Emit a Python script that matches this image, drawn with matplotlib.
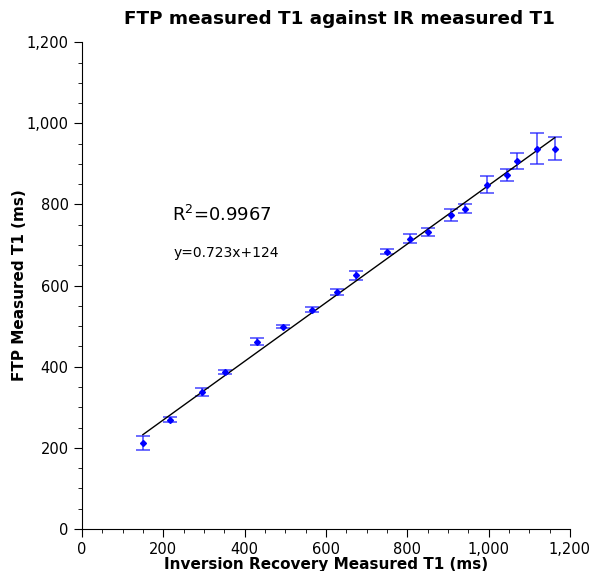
import numpy as np
import matplotlib
matplotlib.use('Agg')
import matplotlib.pyplot as plt
from matplotlib.ticker import MultipleLocator, FuncFormatter

# values
ir_t1 = [150, 216, 295, 352, 430, 494, 566, 627, 674, 750, 807, 851, 907, 942, 996, 1045, 1070, 1119, 1163]
ftp_t1 = [212, 269, 338, 388, 462, 499, 541, 585, 625, 684, 716, 733, 775, 790, 849, 873, 908, 938, 938]
ftp_err = [17, 6, 9, 5, 9, 4, 7, 7, 11, 6, 11, 10, 15, 11, 21, 15, 20, 38, 28]
slope = 0.723
intercept = 124

fig = plt.figure(figsize=(5.93, 5.71), dpi=100)
ax = fig.add_axes([0.138, 0.0736, 0.823, 0.8524])

ax.errorbar(ir_t1, ftp_t1, yerr=ftp_err, fmt='D', color='blue', ms=3,
            ecolor=(0.1, 0.1, 1.0, 0.75), elinewidth=1.2, capsize=5, capthick=1.2)
xs = np.array([ir_t1[0], ir_t1[-1]])
ax.plot(xs, slope * xs + intercept, color='black', lw=1)

ax.text(221, 775, r'R$^2$=0.9967', fontsize=13, va='center')
ax.text(226, 681, 'y=0.723x+124', fontsize=10, va='center')

ax.set_xlim(0, 1200)
ax.set_ylim(0, 1200)
ax.xaxis.set_major_locator(MultipleLocator(200))
ax.yaxis.set_major_locator(MultipleLocator(200))
ax.xaxis.set_minor_locator(MultipleLocator(50))
ax.yaxis.set_minor_locator(MultipleLocator(50))
fmt = FuncFormatter(lambda v, p: f'{int(v):,}')
ax.xaxis.set_major_formatter(fmt)
ax.yaxis.set_major_formatter(fmt)
ax.tick_params(which='major', length=6, labelsize=10.5)
ax.tick_params(which='minor', length=3)
ax.spines['top'].set_visible(False)
ax.spines['right'].set_visible(False)

ax.set_xlabel('Inversion Recovery Measured T1 (ms)', fontsize=11, fontweight='bold', labelpad=0)
ax.set_ylabel('FTP Measured T1 (ms)', fontsize=11, fontweight='bold', labelpad=0)
fig.text(0.573, 0.967, 'FTP measured T1 against IR measured T1', fontsize=13.2,
         fontweight='bold', ha='center', va='center')

fig.savefig('out.png', dpi=100)
